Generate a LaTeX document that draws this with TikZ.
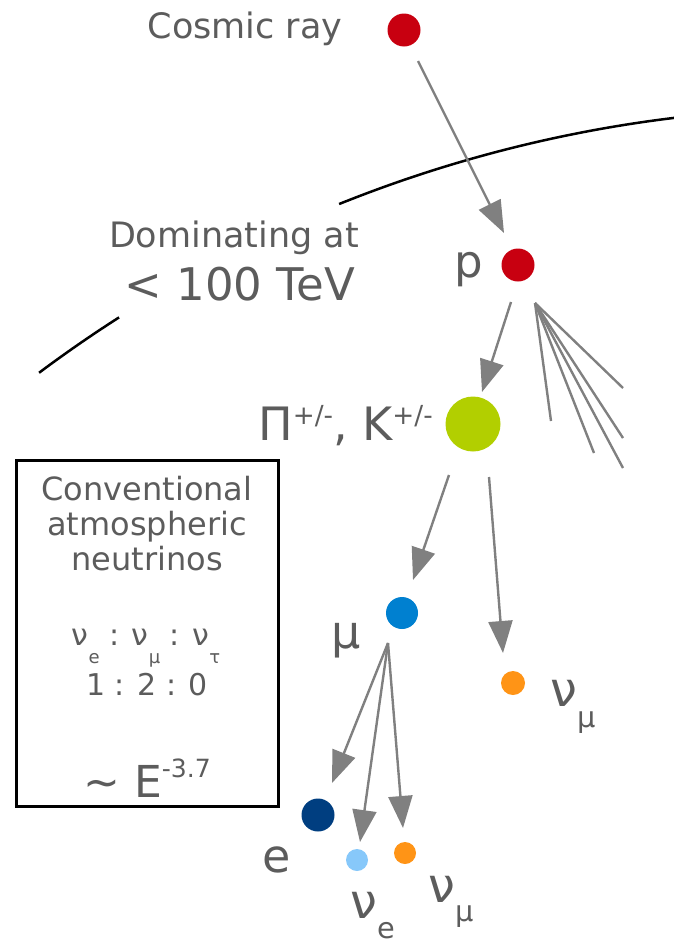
\documentclass[tikz,border=0pt]{standalone}
\usepackage{fontspec}
\setmainfont{DejaVu Sans}
\usetikzlibrary{arrows.meta}

\definecolor{txtgray}{RGB}{92,92,92}
\definecolor{arrgray}{RGB}{128,128,128}
\definecolor{crred}{RGB}{200,0,16}
\definecolor{mesongreen}{RGB}{178,207,0}
\definecolor{mublue}{RGB}{0,128,208}
\definecolor{edarkblue}{RGB}{0,62,128}
\definecolor{nuelight}{RGB}{135,200,250}
\definecolor{numuorange}{RGB}{255,148,22}

\newcommand{\fsz}[1]{\fontsize{#1}{#1}\selectfont}
\newcommand{\lowsub}[2]{\raisebox{-#1}{\scalebox{0.6}{#2}}}
\newcommand{\highsup}[2]{\raisebox{#1}{\scalebox{0.57}{#2}}}

\begin{document}
\begin{tikzpicture}[x=1pt, y=-1pt,
    dot/.style={circle, inner sep=0pt},
    lbl/.style={text=txtgray, inner sep=0pt, anchor=base},
    arr/.style={draw=arrgray, line width=2.4pt, -{Triangle[width=24pt,length=32pt]}},
    fan/.style={draw=arrgray, line width=2.4pt}]
    \useasboundingbox (0,0) rectangle (673,945);

    % atmosphere
    \draw[line width=2.5pt] (834.2,1435.6) ++(264:1327.4) arc[start angle=264, end angle=248.1, radius=1327.4];
    \draw[line width=2.5pt] (834.2,1435.6) ++(237.4:1327.4) arc[start angle=237.4, end angle=233.2, radius=1327.4];

    % particles
    \node[dot, fill=crred, minimum size=33pt] (cr) at (404,30) {};
    \node[dot, fill=crred, minimum size=33pt] (p) at (518,265) {};
    \node[dot, fill=mesongreen, minimum size=55pt] (meson) at (473,424) {};
    \node[dot, fill=mublue, minimum size=32pt] (mu) at (402,613) {};
    \node[dot, fill=numuorange, minimum size=24pt] (numu1) at (513,683) {};
    \node[dot, fill=edarkblue, minimum size=33pt] (e) at (318,815) {};
    \node[dot, fill=nuelight, minimum size=22pt] (nue) at (357,860) {};
    \node[dot, fill=numuorange, minimum size=22pt] (numu2) at (405,853) {};

    % labels
    \node[lbl, font=\fsz{35}] (cosmiclbl) at (245,38) {Cosmic ray};
    \node[lbl, font=\fsz{35}] (domlbl) at (234,247) {Dominating at};
    \node[lbl, font=\fsz{45}] (tevlbl) at (240,300) {< 100 TeV};
    \node[lbl, font=\fsz{45}] (plbl) at (469,277) {p};
    \node[lbl, anchor=base west, font=\fsz{46}] (mesonlbl) at (258,440)
        {Π\highsup{.33em}{+/-}, K\highsup{.33em}{+/-}};
    \node[lbl, font=\fsz{46}] (mulbl) at (346,648) {μ};
    \node[lbl, anchor=base west, font=\fsz{48}] (numulbl) at (550,706) {ν\lowsub{.44em}{μ}};
    \node[lbl, font=\fsz{46}] (elbl) at (277,872) {e};
    \node[lbl, anchor=base west, font=\fsz{48}] (nuelbl) at (350,918) {ν\lowsub{.42em}{e}};
    \node[lbl, anchor=base west, font=\fsz{48}] (numu2lbl) at (428,902) {ν\lowsub{.40em}{μ}};

    % decays
    \draw[arr] ([shift={(14,31)}]cr.center) -- ([shift={(-14,-32)}]p.center);
    \draw[arr] ([shift={(-7,37)}]p.center) -- ([shift={(9,-32)}]meson.center);
    \foreach \x/\y in {551/421, 594/453, 623/468, 623/438, 623/388}
        \draw[fan] ([shift={(17,38)}]p.center) -- (\x,\y);
    \draw[arr] ([shift={(-24,51)}]meson.center) -- ([shift={(11,-33)}]mu.center);
    \draw[arr] ([shift={(16,53)}]meson.center) -- ([shift={(-10,-30)}]numu1.center);
    \draw[arr] ([shift={(-14,30)}]mu.center) -- ([shift={(14,-32)}]e.center);
    \draw[arr] ([shift={(-14,30)}]mu.center) -- ([shift={(3,-18)}]nue.center);
    \draw[arr] ([shift={(-14,30)}]mu.center) -- ([shift={(-2,-25)}]numu2.center);

    % legend box
    \node[draw, line width=3pt, minimum width=262pt, minimum height=346pt, inner sep=0pt] (legend) at (147.5,633) {};
    \node[lbl, font=\fsz{32}] (convlbl) at (147,500) {Conventional};
    \node[lbl, font=\fsz{32}] (atmlbl) at (147,535) {atmospheric};
    \node[lbl, font=\fsz{32}] (neulbl) at (147,570) {neutrinos};
    \node[lbl, font=\fsz{30}] (flavlbl) at (146,645)
        {ν\lowsub{.6em}{e} : ν\lowsub{.6em}{μ} : ν\lowsub{.6em}{τ}};
    \node[lbl, font=\fsz{30}] (ratiolbl) at (147,695) {1 : 2 : 0};
    \node[lbl, font=\fsz{44}] (speclbl) at (147,797)
        {\textasciitilde\ E\highsup{.45em}{-3.7}};
\end{tikzpicture}
\end{document}
